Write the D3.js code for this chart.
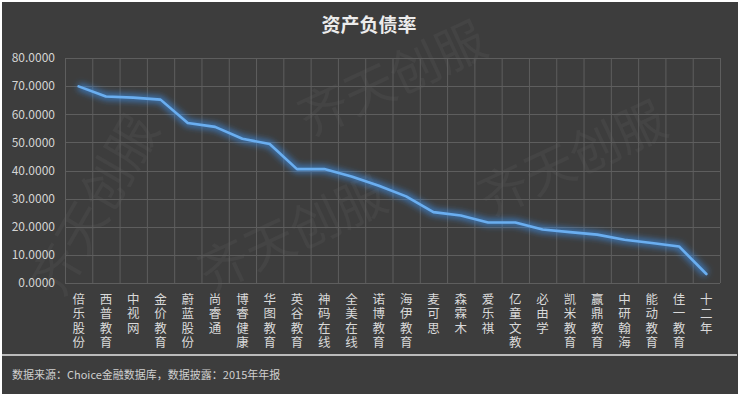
<!DOCTYPE html>
<html>
<head>
<meta charset="utf-8">
<script src="https://cdn.jsdelivr.net/npm/d3@7"></script>
<style>
  body { margin: 0; background: #fff; }
  svg { display: block; }
</style>
</head>
<body>
<script>
// company names (one per band on the x axis)
let companies = ['倍乐股份', '西普教育', '中视网', '金价教育', '蔚蓝股份', '尚睿通',
  '博睿健康', '华图教育', '英谷教育', '神码在线', '全美在线', '诺博教育',
  '海伊教育', '麦可思', '森霖木', '爱乐祺', '亿童文教', '必由学',
  '凯米教育', '赢鼎教育', '中研翰海', '能动教育', '佳一教育', '十二年']

// 资产负债率 (%)
let ratios = [69.9, 66.3, 65.9, 65.2, 56.9, 55.5, 51.3, 49.4, 40.5, 40.5, 37.9, 34.6,
  30.8, 25.2, 24.0, 21.5, 21.5, 19.0, 18.1, 17.2, 15.4, 14.2, 13.0, 3.2]

let yTicks = [0, 10, 20, 30, 40, 50, 60, 70, 80]

let chartTitle = '资产负债率'
let sourceNote = '数据来源：Choice金融数据库，数据披露：2015年年报'

function drawChart () {
  let width = 741
  let height = 397
  let font = '"Noto Sans CJK SC", "Noto Sans", sans-serif'
  let margin = {top: 58, left: 65, right: 21, bottom: 114}
  let plotW = width - margin.left - margin.right
  let plotH = height - margin.top - margin.bottom

  let svg = d3.select('body').append('svg')
    .attr('width', width)
    .attr('height', height)

  let defs = svg.append('defs')
  defs.append('filter')
    .attr('id', 'glow')
    .attr('x', '-20%').attr('y', '-20%')
    .attr('width', '140%').attr('height', '140%')
    .append('feGaussianBlur')
    .attr('stdDeviation', 3)

  // dark panel inside a thin light frame
  svg.append('rect')
    .attr('x', 2).attr('y', 2)
    .attr('width', width - 5).attr('height', height - 5)
    .style('fill', '#3d3d3d')

  // faint watermark
  let marks = [
    {x: 400, y: 95, rot: -25},
    {x: 110, y: 215, rot: -60},
    {x: 580, y: 175, rot: -25},
    {x: 300, y: 250, rot: -25}
  ]
  svg.selectAll('text.wm')
    .data(marks)
    .enter().append('text')
    .attr('class', 'wm')
    .attr('transform', d => 'translate(' + d.x + ',' + d.y + ') rotate(' + d.rot + ')')
    .attr('text-anchor', 'middle')
    .style('font-family', font)
    .style('font-size', '50px')
    .style('fill', '#ffffff')
    .style('fill-opacity', 0.04)
    .text('齐天创服')

  // title
  svg.append('text')
    .attr('x', 369)
    .attr('y', 32)
    .attr('text-anchor', 'middle')
    .style('font-family', font)
    .style('font-size', '19px')
    .style('font-weight', 'bold')
    .style('fill', '#ececec')
    .text(chartTitle)

  let g = svg.append('g')
    .attr('transform', 'translate(' + margin.left + ',' + margin.top + ')')

  let x = d3.scaleBand().domain(companies).range([0, plotW])
  let y = d3.scaleLinear().domain([0, 80]).range([plotH, 0])

  // grid
  let bounds = companies.map(c => x(c)).concat([plotW])
  g.selectAll('line.vgrid')
    .data(bounds)
    .enter().append('line')
    .attr('class', 'vgrid')
    .attr('x1', d => d + 0.5).attr('x2', d => d + 0.5)
    .attr('y1', 0).attr('y2', plotH)
    .style('stroke', '#5e5e5e')
    .style('stroke-width', 1)

  g.selectAll('line.hgrid')
    .data(yTicks)
    .enter().append('line')
    .attr('class', 'hgrid')
    .attr('x1', 0).attr('x2', plotW)
    .attr('y1', d => Math.round(y(d)) + 0.5).attr('y2', d => Math.round(y(d)) + 0.5)
    .style('stroke', '#5e5e5e')
    .style('stroke-width', 1)

  // y axis labels
  let yAxis = g.append('g')
    .call(d3.axisLeft(y).tickValues(yTicks).tickFormat(d3.format('.4f')).tickSize(0).tickPadding(10))
  yAxis.select('.domain').remove()
  yAxis.selectAll('text')
    .style('font-family', font)
    .style('font-size', '12px')
    .style('fill', '#d4d4d4')

  // x labels, one character per line, top to bottom
  let chars = []
  companies.forEach(name => {
    Array.from(name).forEach((ch, i) => chars.push({name: name, ch: ch, row: i}))
  })
  g.selectAll('text.xlab')
    .data(chars)
    .enter().append('text')
    .attr('class', 'xlab')
    .attr('x', d => x(d.name) + x.bandwidth() / 2)
    .attr('y', d => plotH + 21 + d.row * 14.3)
    .attr('text-anchor', 'middle')
    .style('font-family', font)
    .style('font-size', '12.5px')
    .style('fill', '#d9d9d9')
    .text(d => d.ch)

  // line with glow
  let line = d3.line()
    .x((d, i) => x(companies[i]) + x.bandwidth() / 2)
    .y(d => y(d))

  g.append('path')
    .datum(ratios)
    .attr('d', line)
    .attr('filter', 'url(#glow)')
    .style('fill', 'none')
    .style('stroke', '#3d8ee8')
    .style('stroke-width', 7)
    .style('stroke-opacity', 0.7)
    .style('stroke-linejoin', 'round')

  g.append('path')
    .datum(ratios)
    .attr('d', line)
    .style('fill', 'none')
    .style('stroke', '#6aaef0')
    .style('stroke-width', 2.6)
    .style('stroke-linejoin', 'round')
    .style('stroke-linecap', 'round')

  // footer
  svg.append('line')
    .attr('x1', 2).attr('x2', width - 4)
    .attr('y1', 355).attr('y2', 355)
    .style('stroke', '#e6e6e6')
    .style('stroke-width', 1.5)

  svg.append('text')
    .attr('x', 12)
    .attr('y', 379)
    .style('font-family', font)
    .style('font-size', '11px')
    .style('fill', '#cfcfcf')
    .text(sourceNote)
}

drawChart()
</script>
</body>
</html>
